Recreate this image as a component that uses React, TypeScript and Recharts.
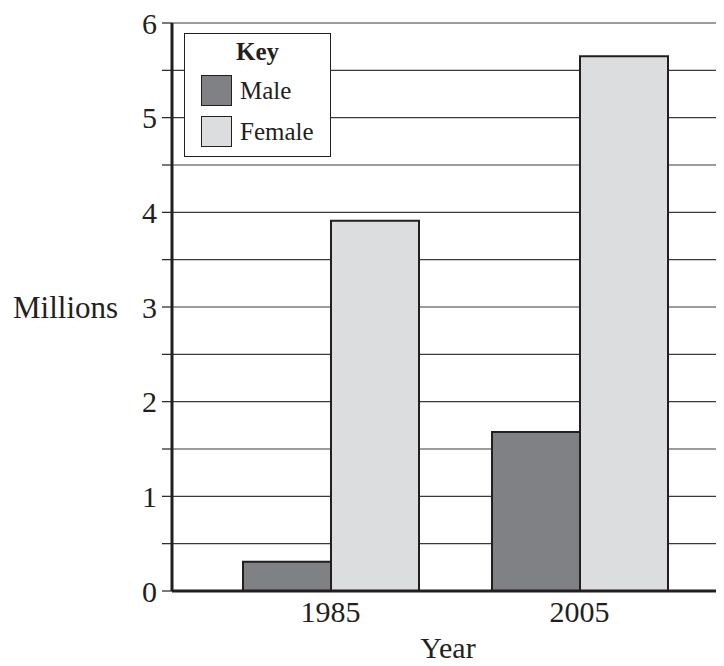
import React from "react";
import { BarChart, Bar, XAxis, YAxis, CartesianGrid, Label } from "recharts";

const years = ["1985", "2005"];
const maleValues = [0.31, 1.68];
const femaleValues = [3.91, 5.65];
const yTicks = [0, 0.5, 1, 1.5, 2, 2.5, 3, 3.5, 4, 4.5, 5, 5.5, 6];
const keyItems = [
  { label: "Male", color: "#808184" },
  { label: "Female", color: "#dcdddf" },
];

const data = years.map((year, i) => ({ year, male: maleValues[i], female: femaleValues[i] }));

const FONT = "'Liberation Serif', 'DejaVu Serif', serif";
const INK = "#231f20";

// key box sits inside the plot, top-left
function KeyBox() {
  return (
    <div
      style={{
        position: "absolute",
        left: 184,
        top: 33,
        width: 147,
        height: 124,
        border: `1.5px solid ${INK}`,
        background: "#fff",
        fontFamily: FONT,
        color: INK,
        boxSizing: "border-box",
      }}
    >
      <div style={{ position: "absolute", left: 0, right: 0, top: 4, textAlign: "center", fontWeight: "bold", fontSize: 25 }}>
        Key
      </div>
      {keyItems.map((item, i) => (
        <div key={item.label} style={{ position: "absolute", left: 16, top: 41 + i * 41, display: "flex", alignItems: "center" }}>
          <div style={{ width: 29, height: 29, background: item.color, border: `1.5px solid ${INK}` }} />
          <span style={{ marginLeft: 8, fontSize: 25, lineHeight: "30px" }}>{item.label}</span>
        </div>
      ))}
    </div>
  );
}

export default function App() {
  return (
    <div style={{ margin: -8, width: 724, height: 666, background: "#fff", position: "relative", overflow: "hidden" }}>
      <BarChart
        width={724}
        height={666}
        data={data}
        margin={{ top: 23, right: 0, bottom: 0, left: 0 }}
        barGap={0}
        barCategoryGap={0}
        style={{ fontFamily: FONT }}
      >
        <CartesianGrid horizontal vertical={false} stroke="#3a3a3a" strokeWidth={1.2} />
        <XAxis
          dataKey="year"
          height={75}
          padding={{ left: 34, right: 20 }}
          axisLine={{ stroke: INK, strokeWidth: 3 }}
          tickLine={false}
          tickSize={6}
          tickMargin={4}
          tick={{ fill: INK, fontSize: 30, fontFamily: FONT }}
        >
          <Label value="Year" position="insideBottom" offset={8} fill={INK} fontSize={30} fontFamily={FONT} />
        </XAxis>
        <YAxis
          width={172}
          domain={[0, 6]}
          ticks={yTicks}
          interval={0}
          tickFormatter={(v: number) => (Number.isInteger(v) ? String(v) : "")}
          axisLine={{ stroke: INK, strokeWidth: 3 }}
          tickLine={{ stroke: INK, strokeWidth: 1.2 }}
          tickSize={10}
          tickMargin={5}
          tick={{ fill: INK, fontSize: 30, fontFamily: FONT }}
        >
          <Label value="Millions" position="insideLeft" offset={13} fill={INK} fontSize={31} fontFamily={FONT} />
        </YAxis>
        <Bar dataKey="male" fill="#808184" stroke={INK} strokeWidth={2} barSize={88} isAnimationActive={false} />
        <Bar dataKey="female" fill="#dcdddf" stroke={INK} strokeWidth={2} barSize={88} isAnimationActive={false} />
      </BarChart>
      <KeyBox />
    </div>
  );
}
